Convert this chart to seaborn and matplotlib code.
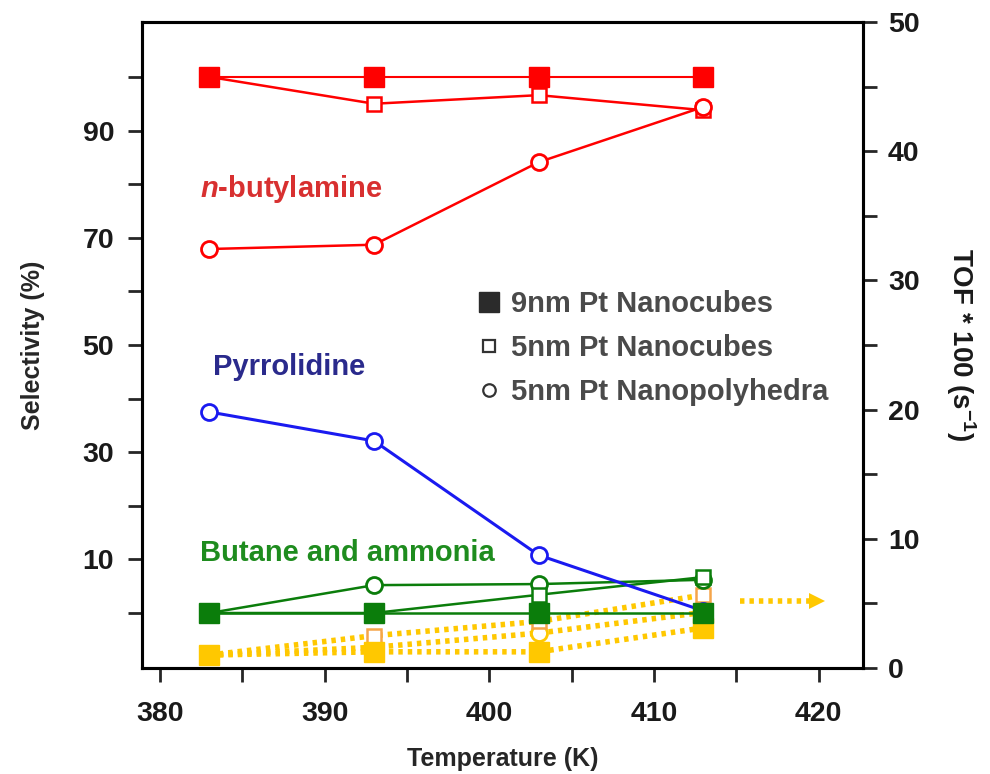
import matplotlib
matplotlib.use("Agg")
import matplotlib.pyplot as plt
import seaborn as sns
import numpy as np
from matplotlib.lines import Line2D

sns.set_style("ticks")
plt.rcParams['font.family'] = ['Liberation Sans', 'DejaVu Sans']
plt.rcParams['mathtext.fontset'] = 'custom'
plt.rcParams['mathtext.rm'] = 'Liberation Sans'
plt.rcParams['mathtext.it'] = 'Liberation Sans:italic:bold'

# ---------------- data ----------------
temperature = [383, 393, 403, 413]

# selectivity (%) - left axis
butylamine_9nm_cubes = [100, 100, 100, 100]
butylamine_5nm_cubes = [100, 95.0, 96.6, 93.8]
butylamine_5nm_poly = [67.9, 68.7, 84.1, 94.4]

pyrrolidine_5nm_poly = [37.5, 32.1, 10.8, 0.4]

butane_9nm_cubes = [0, 0, 0, 0]
butane_5nm_cubes = [0, 0, 3.4, 6.7]
butane_5nm_poly = [0, 5.2, 5.4, 6.2]

# TOF * 100 (s^-1) - right axis
tof_9nm_cubes = [1.0, 1.25, 1.25, 3.1]
tof_5nm_cubes = [1.0, 2.5, 3.6, 5.65]
tof_5nm_poly = [1.0, 1.6, 2.7, 4.3]

arrow_x = [415.2, 419.9]
arrow_tof = 5.2

x_ticks = [380, 385, 390, 395, 400, 405, 410, 415, 420]
x_ticklabels = ['380', '', '390', '', '400', '', '410', '', '420']
left_ticks = [0, 10, 20, 30, 40, 50, 60, 70, 80, 90, 100]
left_ticklabels = ['', '10', '', '30', '', '50', '', '70', '', '90', '']
right_ticks = [0, 5, 10, 15, 20, 25, 30, 35, 40, 45, 50]
right_ticklabels = ['0', '', '10', '', '20', '', '30', '', '40', '', '50']

legend_labels = ['9nm Pt Nanocubes', '5nm Pt Nanocubes', '5nm Pt Nanopolyhedra']

# ---------------- colours ----------------
RED = '#FF0000'
BLUE = '#1A1AF0'
GREEN = '#0B7D0B'
YELLOW = '#FFC800'
ORANGE = '#F5A54A'

fig = plt.figure(figsize=(9.9, 7.74), dpi=100)
ax = fig.add_axes([0.1434, 0.137, 0.7283, 0.8346])
ax2 = ax.twinx()

def draw(axis, y, color, kind, lw=1.8, ls='-', z=3, edge=None):
    edge = edge or color
    if kind == 'filled':
        kw = dict(marker='s', markersize=15, markerfacecolor=color,
                  markeredgecolor=color, markeredgewidth=1)
    elif kind == 'square':
        kw = dict(marker='s', markersize=9.5, markerfacecolor='white',
                  markeredgecolor=edge, markeredgewidth=1.8)
    else:
        kw = dict(marker='o', markersize=11.5, markerfacecolor='white',
                  markeredgecolor=edge, markeredgewidth=2)
    sns.lineplot(x=temperature, y=y, ax=axis, color=color, lw=lw, linestyle=ls,
                 zorder=z, legend=False, **kw)

# TOF lines (yellow, dotted) on right axis
dot = (0, (0.8, 0.9))
draw(ax2, tof_5nm_poly, YELLOW, 'circle', lw=4, ls=dot, z=2, edge=YELLOW)
draw(ax2, tof_5nm_cubes, YELLOW, 'square', lw=4, ls=dot, z=2, edge=ORANGE)
draw(ax2, tof_9nm_cubes, YELLOW, 'filled', lw=4, ls=dot, z=2)
ax2.plot(arrow_x, [arrow_tof, arrow_tof], color=YELLOW, lw=4, linestyle=dot, zorder=2)
ax2.plot([arrow_x[1]], [arrow_tof], marker='>', color=YELLOW, markersize=11,
         markeredgewidth=0, zorder=2)

# selectivity lines on left axis
draw(ax, butane_5nm_poly, GREEN, 'circle', z=3)
draw(ax, butane_5nm_cubes, GREEN, 'square', z=3)
draw(ax, pyrrolidine_5nm_poly, BLUE, 'circle', lw=2.2, z=4)
draw(ax, butane_9nm_cubes, GREEN, 'filled', z=5)
draw(ax, butylamine_5nm_cubes, RED, 'square', z=3)
draw(ax, butylamine_5nm_poly, RED, 'circle', z=3)
draw(ax, butylamine_9nm_cubes, RED, 'filled', lw=1.5, z=4)

ax.set_zorder(ax2.get_zorder() + 1)
ax.patch.set_visible(False)

# ---------------- axes ----------------
ax.set_xlim(378.9, 422.7)
ax.set_ylim(-10.25, 110.25)
ax2.set_ylim(0, 50)

ax.set_xticks(x_ticks)
ax.set_xticklabels(x_ticklabels)
ax.set_yticks(left_ticks)
ax.set_yticklabels(left_ticklabels)
ax2.set_yticks(right_ticks)
ax2.set_yticklabels(right_ticklabels)

for lab in ax.get_xticklabels() + ax.get_yticklabels() + ax2.get_yticklabels():
    lab.set_fontsize(20.5)
    lab.set_fontweight('bold')
    lab.set_color('#1a1a1a')

ax.tick_params(axis='both', direction='out', length=10, width=2)
ax.tick_params(axis='x', pad=14)
ax.tick_params(axis='y', pad=10)
ax2.tick_params(axis='y', direction='out', length=10, width=2, pad=8)
for a in (ax, ax2):
    for s in a.spines.values():
        s.set_linewidth(2.2)
        s.set_color('black')

ax.set_xlabel('Temperature (K)', fontsize=18, fontweight='bold', labelpad=14)
ax.set_ylabel('Selectivity (%)', fontsize=18, fontweight='bold', labelpad=27)
ax2.set_ylabel('TOF * 100 (s$^{\\mathregular{-1}}$)', fontsize=20, rotation=270,
               labelpad=42, fontweight='bold', color='#1a1a1a')

# ---------------- annotations ----------------
ax.text(382.4, 79.1, '$\\mathit{n}$-butylamine', fontsize=21, fontweight='bold',
        color='#D83030', va='center', ha='left')
ax.text(383.2, 45.9, 'Pyrrolidine', fontsize=21, fontweight='bold',
        color='#2A2A8C', va='center', ha='left')
ax.text(382.4, 11.2, 'Butane and ammonia', fontsize=21, fontweight='bold',
        color='#1E8C1E', va='center', ha='left')

handles = [
    Line2D([], [], linestyle='none', marker='s', markersize=14, markerfacecolor='#2b2b2b',
           markeredgecolor='#2b2b2b'),
    Line2D([], [], linestyle='none', marker='s', markersize=8.5, markerfacecolor='white',
           markeredgecolor='#333333', markeredgewidth=1.6),
    Line2D([], [], linestyle='none', marker='o', markersize=9, markerfacecolor='white',
           markeredgecolor='#333333', markeredgewidth=1.6),
]
leg = ax.legend(handles, legend_labels, loc='upper left',
                bbox_to_anchor=(0.4556, 0.659), bbox_transform=fig.transFigure,
                frameon=False, handlelength=0.8, handletextpad=0.35, labelspacing=0.55,
                prop=dict(family='Liberation Sans', weight='bold', size=21))
for t in leg.get_texts():
    t.set_color('#4a4a4a')

fig.savefig('out.png', dpi=100)
